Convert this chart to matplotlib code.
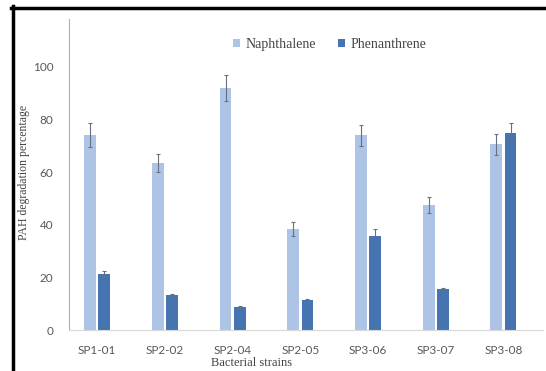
import matplotlib.pyplot as plt
import numpy as np
from matplotlib.lines import Line2D

# données
souches = ['SP1-01', 'SP2-02', 'SP2-04', 'SP2-05', 'SP3-06', 'SP3-07', 'SP3-08']
naphtalene = [74, 63.5, 92, 38.5, 74, 47.5, 70.5]
naphtalene_err = [4.5, 3.5, 5, 2.6, 4, 3, 4]
phenanthrene = [21.3, 13.2, 8.7, 11.4, 35.7, 15.5, 75]
phenanthrene_err = [1, 0.5, 0.5, 0.5, 2.7, 0.5, 3.7]

fig = plt.figure(figsize=(5.46, 3.71), dpi=100)
ax = fig.add_axes([0.126, 0.11, 0.868, 0.852])

# cadre noir (seuls les bords gauche et haut sont visibles)
fig.add_artist(Line2D([0.024, 0.024], [0.0, 0.983], transform=fig.transFigure,
                      color='black', linewidth=2.5))
fig.add_artist(Line2D([0.02, 1.0], [0.979, 0.979], transform=fig.transFigure,
                      color='black', linewidth=2.5))

x = np.arange(len(souches))
w = 0.175
d = 0.105
err_kw = dict(ecolor='#6a6f80', elinewidth=0.8, capsize=1.5, capthick=0.8)
ax.bar(x - d, naphtalene, w, yerr=naphtalene_err, color='#aec4e6',
       label='Naphthalene', error_kw=err_kw)
ax.bar(x + d, phenanthrene, w, yerr=phenanthrene_err, color='#4574b0',
       label='Phenanthrene', error_kw=err_kw)

ax.set_xlim(-0.42, 6.58)
ax.set_ylim(0, 120)
ax.set_yticks([0, 20, 40, 60, 80, 100])
ax.set_xticks(x)
ax.set_xticklabels(souches)
ax.tick_params(length=0, labelsize=8.5, colors='#595959')
ax.tick_params(axis='y', pad=11)
ax.tick_params(axis='x', pad=11)
for lab in ax.get_xticklabels() + ax.get_yticklabels():
    lab.set_fontfamily('Lato')

for s in ['top', 'right']:
    ax.spines[s].set_visible(False)
ax.spines['left'].set_color('#b0b0b0')
ax.spines['left'].set_bounds(0, 118)
ax.spines['bottom'].set_color('#d8d8d8')

ax.set_ylabel('PAH degradation percentage', fontfamily='Liberation Serif',
              fontsize=8.5, color='#444444')
ax.yaxis.set_label_coords(-0.082, 0.5)
ax.set_xlabel('Bacterial strains', fontfamily='Liberation Serif',
              fontsize=9, color='#444444', va='bottom')
ax.xaxis.set_label_coords(0.386, -0.124)

ax.legend(loc='upper center', bbox_to_anchor=(0.55, 0.965), ncol=2, frameon=False,
          prop={'family': 'Liberation Serif', 'size': 10}, handlelength=0.5,
          handleheight=0.5, handletextpad=0.4, columnspacing=1.6,
          labelcolor='#444444')

plt.savefig('out.png', dpi=100)
